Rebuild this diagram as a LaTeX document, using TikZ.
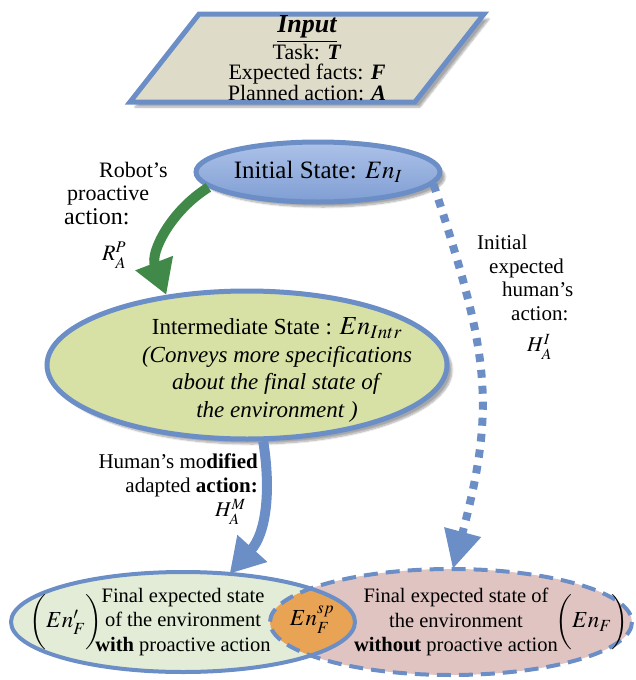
\documentclass[tikz,border=0pt]{standalone}
\usepackage{amsmath}
\usepackage{mathptmx}
\usepackage{fontspec}
\setmainfont{Liberation Serif}
\usepackage{xcolor}
\usepackage{tikz}
\usetikzlibrary{shapes.geometric,arrows.meta,shadows.blur}
\definecolor{stateblue}{RGB}{108,142,198}
\definecolor{inputfill}{RGB}{222,219,200}
\definecolor{inittop}{RGB}{172,194,232}
\definecolor{initbottom}{RGB}{128,158,212}
\definecolor{interfill}{RGB}{215,224,165}
\definecolor{withfill}{RGB}{226,236,214}
\definecolor{withoutfill}{RGB}{224,196,194}
\definecolor{lensorange}{RGB}{232,163,84}
\definecolor{arrowgreen}{RGB}{64,137,72}
\tikzset{
  softshadow/.style={blur shadow={shadow xshift=5pt, shadow yshift=-5pt, shadow opacity=35, shadow blur steps=8}},
  inputbox/.style={trapezium, trapezium left angle=51, trapezium right angle=129,
    trapezium stretches body, draw=stateblue, line width=5pt, fill=inputfill,
    minimum width=354pt, minimum height=88pt, inner sep=0pt, align=center,
    font=\fontsize{22}{20.5}\selectfont, softshadow},
  initstate/.style={ellipse, draw=stateblue, line width=5pt, top color=inittop,
    bottom color=initbottom, minimum width=244pt, minimum height=60pt, inner sep=0pt,
    font=\fontsize{25}{26}\selectfont, softshadow},
  interstate/.style={ellipse, draw=stateblue, line width=5pt, fill=interfill,
    minimum width=400pt, minimum height=148pt, inner sep=0pt, softshadow},
  finalstate/.style={ellipse, inner sep=0pt, align=center,
    font=\fontsize{20.5}{24.5}\selectfont},
  lbl/.style={inner sep=0pt, font=\fontsize{21}{23.5}\selectfont},
  robotarrow/.style={draw=arrowgreen, line width=10pt, -{Triangle[width=38pt,length=34pt]}},
  humanarrow/.style={draw=stateblue, line width=10pt, -{Triangle[width=38pt,length=34pt]}},
  humandotted/.style={draw=stateblue, line width=8pt, dash pattern=on 8pt off 8pt,
    -{Triangle[width=36pt,length=38pt]}}
}

\begin{document}
\begin{tikzpicture}[x=1pt, y=-1pt]
  \useasboundingbox (0,0) rectangle (635,680);
  %
  \node [inputbox] (input) at (307,58) {{\fontsize{26}{24}\selectfont\textbf{\textit{\underline{Input}}}}\\
    Task: \textbf{\textit{T}}\\ Expected facts: \textbf{\textit{F}}\\ Planned action: \textbf{\textit{A}}};
  \node [initstate] (init) at (318,172) {Initial State: $En_I$};
  \node [interstate] (inter) at (247,365) {};
  \node [lbl, align=center, font=\fontsize{23}{27.5}\selectfont] (intertext) at (277,370)
    {Intermediate State : {\fontsize{26}{27.5}\selectfont$En_{Intr}$}\\ \textit{(Conveys more specifications}\\
     \textit{about the final state of}\\ \textit{the environment )}};

  % final states and their overlap
  \node [finalstate, fill=withfill, minimum width=344pt, minimum height=100pt] (withF) at (183,622)
    {Final expected state\\ of the environment\\ \textbf{with} proactive action};
  \node [finalstate, fill=withoutfill, minimum width=362pt, minimum height=106pt] (withoutF) at (451,622)
    {};
  \begin{scope}
    \clip (withF.center) ellipse [x radius=172, y radius=50];
    \fill [lensorange] (withoutF.center) ellipse [x radius=181, y radius=53];
  \end{scope}
  \draw [stateblue, line width=4pt] (withF.center) ellipse [x radius=172, y radius=50];
  \draw [stateblue, line width=4pt, dash pattern=on 14pt off 8pt] (withoutF.center) ellipse [x radius=181, y radius=53];
  \node [finalstate] (withouttext) at (456,622)
    {Final expected state of\\ the environment\\ \textbf{without} proactive action};
  \node [lbl, font=\fontsize{23}{24}\selectfont] (lens) at (312,622) {$En^{sp}_{\mathstrut F}$};
  \node [lbl, font=\fontsize{23}{24}\selectfont] (enFprime) at (66,622) {$\bigg(En_F^{\prime}\bigg)$};
  \node [lbl, font=\fontsize{23}{24}\selectfont] (enF) at (592,622) {$\bigg(En_F\bigg)$};

  % labels
  \node [lbl, anchor=north west, align=left, font=\fontsize{22}{23.5}\selectfont] (robotlbl) at (64,162)
    {\hspace*{35pt}Robot’s\\ \hspace*{3pt}proactive\\ {\fontsize{24}{23.5}\selectfont action:}\\[13pt]
     \hspace*{38pt}$R^{P}_{\mathstrut A}$};
  \node [lbl, anchor=north west, align=left] (initiallbl) at (477,235)
    {Initial\\ \hspace*{12pt}expected\\ \hspace*{25pt}human’s\\ \hspace*{34pt}action:\\[8pt]
     \hspace*{50pt}$H^{I}_{\mathstrut A}$};
  \node [lbl, anchor=north east, align=right] (humanlbl) at (258,454)
    {Human’s mo\textbf{dified}\\ adapted \textbf{action:}\\[1pt] $H^{M}_{\mathstrut A}$\hspace*{12pt}};

  % Draw edges
  \draw [robotarrow] (init.188) to[out=212, in=111] (inter.139);
  \draw [humandotted] (init.-6) to[out=-72, in=75, looseness=1.15] (withoutF.88);
  \draw [humanarrow] (inter.-78) to[out=-81, in=48] (withF.46);
%
\end{tikzpicture}
\end{document}
